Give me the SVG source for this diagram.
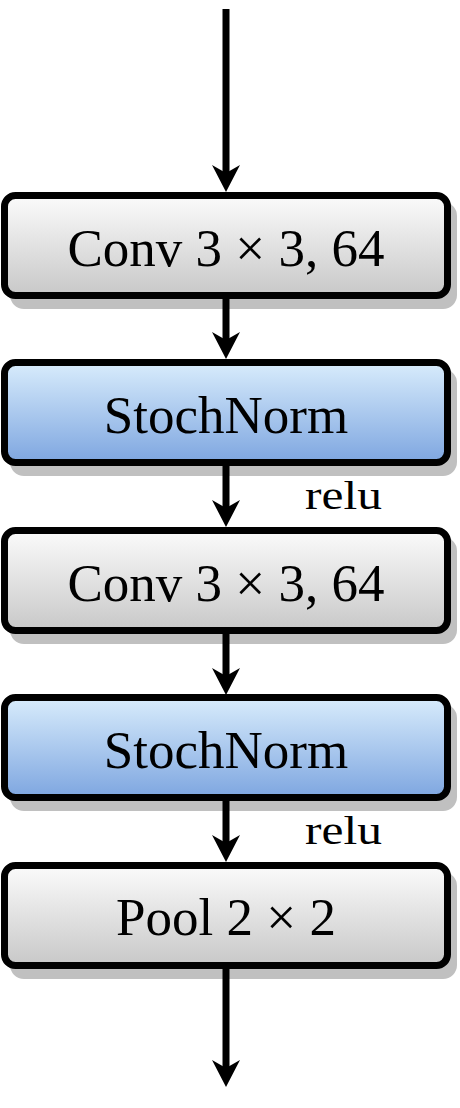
<svg xmlns="http://www.w3.org/2000/svg" width="460" height="1108" viewBox="0 0 460 1108">
<defs>
<linearGradient id="gGrey" x1="0" y1="0" x2="0" y2="1">
<stop offset="0" stop-color="#fbfbfb"/>
<stop offset="1" stop-color="#c8c8c8"/>
</linearGradient>
<linearGradient id="gBlue" x1="0" y1="0" x2="0" y2="1">
<stop offset="0" stop-color="#d8ecfc"/>
<stop offset="1" stop-color="#7ea6e0"/>
</linearGradient>
</defs>
<style>
.box{stroke:#000;stroke-width:7}
.grey{fill:url(#gGrey)}
.blue{fill:url(#gBlue)}
.shadow{fill:#c0c0c0}
.lbl{font-family:"Liberation Serif","Times New Roman",serif;font-size:53px;fill:#000;text-anchor:middle}
.relu{font-family:"Liberation Serif","Times New Roman",serif;font-size:39px;fill:#000}
.edge{stroke:#000;stroke-width:7;fill:none}
.head{fill:#000}
</style>
<g id="conv1">
<rect class="shadow" x="10" y="202" width="447" height="107" rx="14"/>
<rect class="box grey" x="4.5" y="195.5" width="443" height="100" rx="11"/>
<text class="lbl" x="226" y="266">Conv 3 × 3, 64</text>
</g>
<g id="norm1">
<rect class="shadow" x="10" y="369" width="447" height="107" rx="14"/>
<rect class="box blue" x="4.5" y="362.5" width="443" height="100" rx="11"/>
<text class="lbl" x="226" y="433">StochNorm</text>
</g>
<g id="conv2">
<rect class="shadow" x="10" y="537" width="447" height="107" rx="14"/>
<rect class="box grey" x="4.5" y="530.5" width="443" height="100" rx="11"/>
<text class="lbl" x="226" y="601">Conv 3 × 3, 64</text>
</g>
<g id="norm2">
<rect class="shadow" x="10" y="704" width="447" height="107" rx="14"/>
<rect class="box blue" x="4.5" y="697.5" width="443" height="100" rx="11"/>
<text class="lbl" x="226" y="768">StochNorm</text>
</g>
<g id="pool">
<rect class="shadow" x="10" y="872" width="447" height="107" rx="14"/>
<rect class="box grey" x="4.5" y="865.5" width="443" height="100" rx="11"/>
<text class="lbl" x="226" y="935">Pool 2 × 2</text>
</g>
<g id="connectors">
<line class="edge" x1="226" y1="9" x2="226" y2="178"/>
<path class="head" d="M226,192 L212,165 L226,173 L240,165 Z"/>
<line class="edge" x1="226" y1="298" x2="226" y2="345"/>
<path class="head" d="M226,359 L212,332 L226,340 L240,332 Z"/>
<line class="edge" x1="226" y1="466" x2="226" y2="513"/>
<path class="head" d="M226,527 L212,500 L226,508 L240,500 Z"/>
<line class="edge" x1="226" y1="634" x2="226" y2="681"/>
<path class="head" d="M226,695 L212,668 L226,676 L240,668 Z"/>
<line class="edge" x1="226" y1="801" x2="226" y2="848"/>
<path class="head" d="M226,862 L212,835 L226,843 L240,835 Z"/>
<line class="edge" x1="226" y1="969" x2="226" y2="1073"/>
<path class="head" d="M226,1087 L212,1060 L226,1068 L240,1060 Z"/>
<text class="relu" x="305" y="509" textLength="77" lengthAdjust="spacingAndGlyphs">relu</text>
<text class="relu" x="305" y="844" textLength="77" lengthAdjust="spacingAndGlyphs">relu</text>
</g>
</svg>
